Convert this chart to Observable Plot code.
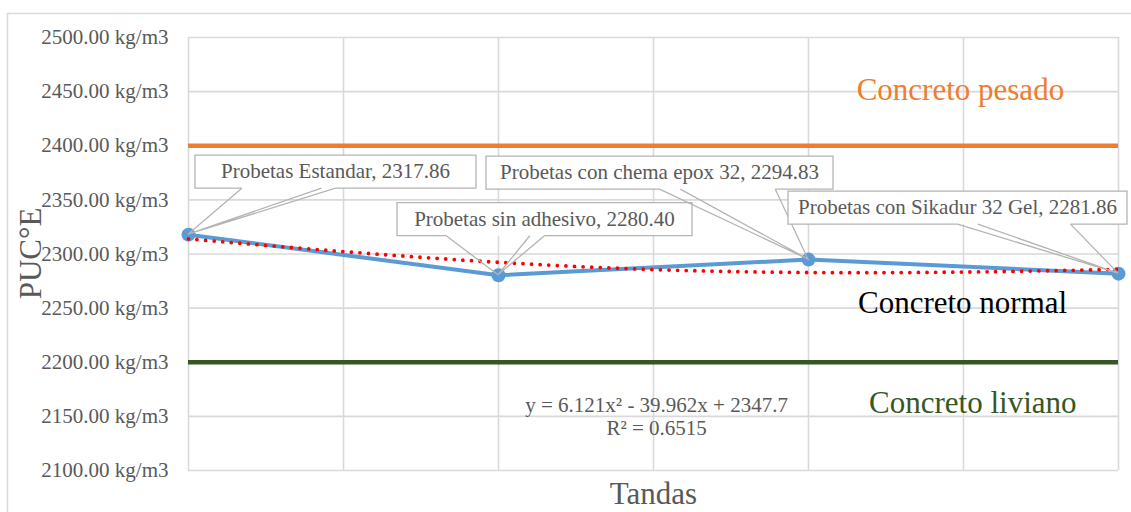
<!DOCTYPE html>
<html>
<head>
<meta charset="utf-8">
<script src="https://cdn.jsdelivr.net/npm/d3@7"></script>
<script src="https://cdn.jsdelivr.net/npm/@observablehq/plot@0.6"></script>
<style>
  html, body { margin: 0; padding: 0; background: white; }
  #chart svg { display: block; }
</style>
</head>
<body>
<div id="chart"></div>
<script>
// ---- data ----
const categories = ["Probetas Estandar", "Probetas sin adhesivo", "Probetas con chema epox 32", "Probetas con Sikadur 32 Gel"];
const tandas = [1, 2, 3, 4];
const puce = [2317.86, 2280.40, 2294.83, 2281.86];
const trendX = [1, 1.5, 2, 2.5, 3, 3.5, 4];
const trendY = [2313.9, 2302.2, 2292.3, 2285.6, 2282.9, 2283.3, 2285.8];
const limitNames = ["Concreto pesado", "Concreto liviano"];
const limitValues = [2400, 2200];
const zoneNames = ["Concreto pesado", "Concreto normal", "Concreto liviano"];
const equationLines = ["y = 6.121x² - 39.962x + 2347.7", "R² = 0.6515"];
const yTitle = "PUC°E";
const xTitle = "Tandas";

// ---- layout / styles (not data) ----
const FONT = "Liberation Serif, Times New Roman, serif";
const zoneLabelPos = [{x: 3.49, y: 2451}, {x: 3.497, y: 2254.7}, {x: 3.53, y: 2162.4}];
const zoneColors = ["#ed7d31", "#000000", "#375623"];
const labelLayout = [
  {dx: 147.5, dy: -62.5, w: 281},
  {dx: 46.5, dy: -55.5, w: 295},
  {dx: -148.5, dy: -86.5, w: 347},
  {dx: -160.5, dy: -65.5, w: 339}
];
const boxH = 33;
const grey = "#595959";

const idx = d3.range(tandas.length);
const tidx = d3.range(trendX.length);

const chart = Plot.plot({
  width: 1131,
  height: 512,
  marginLeft: 188,
  marginRight: 13,
  marginTop: 37,
  marginBottom: 42,
  style: {fontFamily: FONT, fontSize: "21px", color: grey, background: "white"},
  x: {domain: [1, 4], axis: null},
  y: {domain: [2100, 2500], axis: null},
  marks: [
    Plot.gridX({ticks: 6, stroke: "#d9d9d9", strokeOpacity: 1, strokeWidth: 1.6}),
    Plot.gridY({ticks: 8, stroke: "#d9d9d9", strokeOpacity: 1, strokeWidth: 1.6}),
    Plot.axisY({ticks: 8, tickSize: 0, tickPadding: 20, fill: grey, fontSize: 21, fontFamily: FONT,
      tickFormat: d => d3.format(".2f")(d) + " kg/m3"}),
    Plot.ruleY([limitValues[0]], {stroke: "#ed7d31", strokeWidth: 4.5}),
    Plot.ruleY([limitValues[1]], {stroke: "#375623", strokeWidth: 4.5}),
    Plot.text(zoneNames, {x: (d, i) => zoneLabelPos[i].x, y: (d, i) => zoneLabelPos[i].y, text: d => d,
      fill: (d, i) => zoneColors[i], fontSize: 31, fontFamily: FONT, textAnchor: "middle", lineAnchor: "middle"}),
    Plot.line(idx, {x: i => tandas[i], y: i => puce[i], stroke: "#5b9bd5", strokeWidth: 4}),
    Plot.dot(idx, {x: i => tandas[i], y: i => puce[i], r: 7, fill: "#5b9bd5", stroke: "none"}),
    Plot.line(tidx, {x: i => trendX[i], y: i => trendY[i], curve: "catmull-rom", stroke: "#ff0000",
      strokeWidth: 3.8, strokeDasharray: "0,8.6", strokeLinecap: "round"}),
    Plot.text([equationLines.join("\n")], {x: 2.51, y: 2169.3, text: d => d, fill: grey, fontSize: 21, fontFamily: FONT,
      textAnchor: "middle", lineAnchor: "top", lineHeight: 1.1}),
    Plot.text([xTitle], {x: 2.5, frameAnchor: "bottom", dy: 24, text: d => d, fill: grey, fontSize: 31, fontFamily: FONT,
      textAnchor: "middle", lineAnchor: "middle"}),
    Plot.text([yTitle], {y: 2300.5, frameAnchor: "left", dx: -157, rotate: -90, text: d => d, fill: grey,
      fontSize: 31, fontFamily: FONT, textAnchor: "middle", lineAnchor: "middle"})
  ]
});

document.getElementById("chart").append(chart);

const sx = chart.scale("x"), sy = chart.scale("y");
const svg = d3.select(chart);

// outer chart border
svg.insert("rect", ":first-child")
  .attr("x", 7.5).attr("y", 13.5).attr("width", 1200).attr("height", 600)
  .attr("fill", "none").attr("stroke", "#d9d9d9").attr("stroke-width", 1.5);

// data label callouts
const g = svg.append("g").attr("font-family", FONT).attr("font-size", 21);
idx.forEach(i => {
  const px = sx.apply(tandas[i]), py = sy.apply(puce[i]);
  const L = labelLayout[i];
  const cx = px + L.dx, cy = py + L.dy;
  const w = L.w, left = cx - w / 2, top = cy - boxH / 2, bottom = cy + boxH / 2, right = cx + w / 2;
  const bases = px < cx ? [w / 6, 0.45 * w, w / 2] : [w / 2, 0.56 * w, 5 * w / 6];
  g.append("rect").attr("x", left).attr("y", top).attr("width", w).attr("height", boxH).attr("fill", "white");
  const a = left + bases[0], b = left + bases[1], c = left + bases[2];
  const path = `M${a},${bottom}L${left},${bottom}L${left},${top}L${right},${top}L${right},${bottom}L${c},${bottom}` +
    `M${a},${bottom}L${px},${py}L${c},${bottom}M${b},${bottom}L${px},${py}`;
  g.append("path").attr("d", path).attr("fill", "none").attr("stroke", "#b4b4b4").attr("stroke-width", 1.3);
  g.append("text").attr("x", cx).attr("y", cy).attr("dy", "0.32em").attr("text-anchor", "middle")
    .attr("fill", grey).text(categories[i] + ", " + d3.format(".2f")(puce[i]));
});
</script>
</body>
</html>
